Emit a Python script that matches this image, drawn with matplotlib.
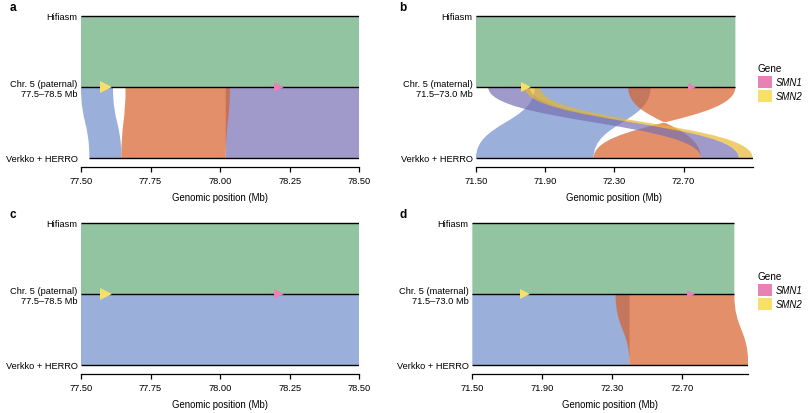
import matplotlib
matplotlib.use('Agg')
import matplotlib.pyplot as plt
from matplotlib.path import Path
from matplotlib.patches import PathPatch, Patch

plt.rcParams['font.family'] = ['Liberation Sans', 'DejaVu Sans']

# track names, bottom to top
paternal_tracks = ['Verkko + HERRO', 'Chr. 5 (paternal)\n77.5–78.5 Mb', 'Hifiasm']
maternal_tracks = ['Verkko + HERRO', 'Chr. 5 (maternal)\n71.5–73.0 Mb', 'Hifiasm']

gene_names = ['SMN1', 'SMN2']

# panel a: paternal, before
a_hifi = [77.50, 78.50]
a_chr = [[77.50, 77.615], [78.02, 78.50], [77.66, 78.035]]
a_verkko = [[77.53, 77.645], [78.02, 78.50], [77.645, 78.02]]
a_inverted = [False, False, False]
a_genes = [78.21, 77.59]      # SMN1, SMN2
a_ticks = [77.50, 77.75, 78.00, 78.25, 78.50]

# panel b: maternal, before
b_hifi = [71.50, 73.00]
b_chr = [[71.84, 72.51], [72.38, 73.00], [71.57, 71.81], [71.78, 71.87]]
b_verkko = [[71.50, 72.18], [72.18, 72.80], [72.80, 73.02], [73.02, 73.10]]
b_inverted = [False, True, False, False]
b_genes = [72.75, 71.79]
b_ticks = [71.50, 71.90, 72.30, 72.70]

# panel c: paternal, after
c_hifi = [77.50, 78.50]
c_chr = [[77.50, 78.50]]
c_verkko = [[77.50, 78.50]]
c_inverted = [False]
c_genes = [78.21, 77.59]
c_ticks = [77.50, 77.75, 78.00, 78.25, 78.50]

# panel d: maternal, after
d_hifi = [71.50, 73.00]
d_chr = [[71.50, 72.40], [72.32, 73.00]]
d_verkko = [[71.50, 72.40], [72.40, 73.08]]
d_inverted = [False, False]
d_genes = [72.75, 71.80]
d_ticks = [71.50, 71.90, 72.30, 72.70]

green = '#65ac79'
blue = '#6f8ec9'
orange = '#d8602a'
purple = '#7770b3'
yellow = '#e7b830'
gene_colors = ['#e882b4', '#f8df6a']

W, H = 808, 414
fig = plt.figure(figsize=(W / 100, H / 100), dpi=100)


def ribbon(ax, top, bottom, y_top, y_bot, color, inverted=False):
    ym = (y_top + y_bot) / 2
    t0, t1 = top
    b0, b1 = bottom
    if inverted:
        b0, b1 = b1, b0
    verts = [(t0, y_top), (t1, y_top),
             (t1, ym), (b1, ym), (b1, y_bot),
             (b0, y_bot),
             (b0, ym), (t0, ym), (t0, y_top),
             (t0, y_top)]
    codes = [Path.MOVETO, Path.LINETO,
             Path.CURVE4, Path.CURVE4, Path.CURVE4,
             Path.LINETO,
             Path.CURVE4, Path.CURVE4, Path.CURVE4,
             Path.CLOSEPOLY]
    ax.add_patch(PathPatch(Path(verts, codes), facecolor=color,
                           edgecolor='none', alpha=0.7, lw=0))


def panel(left, right, top, bottom, hifi, chr_blocks, verkko_blocks, inverted,
          colors, genes, gene_ms, ticks, tracks):
    ax = fig.add_axes([left / W, 1 - bottom / H, (right - left) / W, (bottom - top) / H])
    ribbon(ax, hifi, hifi, 2, 1, green)
    for c, v, inv, col in zip(chr_blocks, verkko_blocks, inverted, colors):
        ribbon(ax, c, v, 1, 0, col, inv)
    lo = min(min(b) for b in verkko_blocks + chr_blocks + [hifi])
    hi = max(max(b) for b in verkko_blocks + chr_blocks + [hifi])
    ax.hlines(2, hifi[0], hifi[1], color='black', lw=1, zorder=3)
    ax.hlines(1, min(min(b) for b in chr_blocks + [hifi]), max(max(b) for b in chr_blocks + [hifi]),
              color='black', lw=1, zorder=3)
    ax.hlines(0, min(min(b) for b in verkko_blocks), max(max(b) for b in verkko_blocks),
              color='black', lw=1, zorder=3)
    for g, col, ms in zip(genes, gene_colors, gene_ms):
        ax.plot(g, 1, marker='>', color=col, ms=ms, mew=0, zorder=4, clip_on=False)
    ax.set_xlim(lo, hi)
    ax.set_ylim(-0.13, 2.05)
    ax.set_xticks(ticks, [f'{t:.2f}' for t in ticks])
    ax.set_yticks([0, 1, 2], tracks)
    for s in ['left', 'right', 'top']:
        ax.spines[s].set_visible(False)
    ax.spines['bottom'].set_linewidth(0.9)
    ax.tick_params(axis='x', length=3.8, width=0.9, pad=2.5, labelsize=6.7)
    ax.tick_params(axis='y', length=0, pad=2.6, labelsize=6.7)
    ax.set_xlabel('Genomic position (Mb)', fontsize=6.9, labelpad=5)
    return ax


ax_a = panel(81, 359.3, 13.45, 168.2, a_hifi, a_chr, a_verkko, a_inverted,
             [blue, purple, orange], a_genes, [6.5, 8.5], a_ticks, paternal_tracks)
ax_b = panel(476, 752.7, 13.45, 168.2, b_hifi, b_chr, b_verkko, b_inverted,
             [blue, orange, purple, yellow], b_genes, [5.5, 7], b_ticks, maternal_tracks)
ax_c = panel(81, 359.3, 220.45, 375.2, c_hifi, c_chr, c_verkko, c_inverted,
             [blue], c_genes, [6.5, 8.5], c_ticks, paternal_tracks)
ax_d = panel(472.3, 748.3, 220.45, 375.2, d_hifi, d_chr, d_verkko, d_inverted,
             [blue, orange], d_genes, [6, 7], d_ticks, maternal_tracks)

for ax, top in [(ax_b, 64), (ax_d, 272)]:
    ax.legend(handles=[Patch(facecolor=c, edgecolor='none') for c in gene_colors],
              labels=gene_names, title='Gene', loc='upper left',
              bbox_to_anchor=(757.5 / W, 1 - top / H), bbox_transform=fig.transFigure,
              frameon=False, borderpad=0, borderaxespad=0, handlelength=1.5,
              handleheight=1.5, handletextpad=0.45, labelspacing=0.3,
              prop={'style': 'italic', 'size': 6.9}, title_fontproperties={'size': 7.2},
              alignment='left')

for letter, x, y in [('a', 10, 8), ('b', 399, 8), ('c', 10, 215), ('d', 399, 215)]:
    fig.text(x / W, 1 - y / H, letter, fontsize=8.5, fontweight='bold', va='center', ha='left')

fig.savefig('out.png', dpi=100)
